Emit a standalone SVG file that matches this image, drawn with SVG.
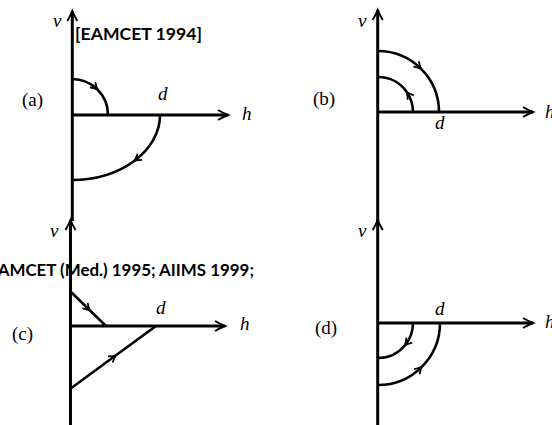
<svg xmlns="http://www.w3.org/2000/svg" width="552" height="425" viewBox="0 0 552 425">
<style>
.ax{stroke:#000;stroke-width:3;fill:none}
.cv{stroke:#000;stroke-width:2.6;fill:none}
.lbl{font-family:"Liberation Serif",serif;font-size:19px;fill:#000}
.var{font-family:"Liberation Serif",serif;font-style:italic;font-size:19px;fill:#000}
.note{font-family:Lato,"Open Sans",sans-serif;font-weight:bold;font-size:17px;fill:#000}
</style>
<defs>
<marker id="ah" markerUnits="userSpaceOnUse" markerWidth="16" markerHeight="14" viewBox="-12 -7 14 14" refX="0" refY="0" orient="auto">
<path d="M-10,-5 Q-4,-1.5 0,0 Q-4,1.5 -10,5" fill="none" stroke="#000" stroke-width="2"/>
</marker>
<marker id="sh" markerUnits="userSpaceOnUse" markerWidth="12" markerHeight="12" viewBox="-10 -6 12 12" refX="0" refY="0" orient="auto">
<path d="M-7,-3.8 Q-3,-1 0,0 Q-3,1 -7,3.8" fill="none" stroke="#000" stroke-width="1.8"/>
</marker>
</defs>
<g id="connectors">
<path class="ax" d="M72.3,221 V11" marker-end="url(#ah)"/>
<path class="ax" d="M72,115 H228" marker-end="url(#ah)"/>
<path class="cv" d="M72,79 A36,36 0 0 1 97.5,89.5" marker-end="url(#sh)"/>
<path class="cv" d="M97.5,89.5 A36,36 0 0 1 108,115"/>
<path class="cv" d="M160,115 A88,65 0 0 1 134.2,161" marker-end="url(#sh)"/>
<path class="cv" d="M134.2,161 A88,65 0 0 1 72,180"/>
<path class="ax" d="M377.7,221 V10" marker-end="url(#ah)"/>
<path class="ax" d="M378,112 H533" marker-end="url(#ah)"/>
<path class="cv" d="M413,112 A35,35 0 0 0 406.7,91.9" marker-end="url(#sh)"/>
<path class="cv" d="M406.7,91.9 A35,35 0 0 0 378,77"/>
<path class="cv" d="M378,51 A61,61 0 0 1 421.1,68.9" marker-end="url(#sh)"/>
<path class="cv" d="M421.1,68.9 A61,61 0 0 1 439,112"/>
<path class="ax" d="M70.5,425 V220" marker-end="url(#ah)"/>
<path class="ax" d="M70,326 H225" marker-end="url(#ah)"/>
<path class="cv" d="M70,291 L90,310.5" marker-end="url(#sh)"/>
<path class="cv" d="M90,310.5 L106,326"/>
<path class="cv" d="M70,389 L116,355.3" marker-end="url(#sh)"/>
<path class="cv" d="M116,355.3 L156,326"/>
<path class="ax" d="M377.7,425 V220" marker-end="url(#ah)"/>
<path class="ax" d="M378,323 H533" marker-end="url(#ah)"/>
<path class="cv" d="M413,323 A35,35 0 0 1 404.8,345.5" marker-end="url(#sh)"/>
<path class="cv" d="M404.8,345.5 A35,35 0 0 1 378,358"/>
<path class="cv" d="M378,385 A62,62 0 0 0 421.8,366.8" marker-end="url(#sh)"/>
<path class="cv" d="M421.8,366.8 A62,62 0 0 0 440,323"/>
</g>
<g id="panel-a">
<text class="lbl" x="22" y="106">(a)</text>
<text class="var" x="53" y="27">v</text>
<text class="var" x="242" y="120">h</text>
<text class="var" x="158" y="100">d</text>
<text class="note" x="75" y="40" textLength="127" lengthAdjust="spacingAndGlyphs">[EAMCET 1994]</text>
</g>
<g id="panel-b">
<text class="lbl" x="313" y="105">(b)</text>
<text class="var" x="358" y="27">v</text>
<text class="var" x="545" y="118">h</text>
<text class="var" x="435" y="129">d</text>
</g>
<g id="panel-c">
<text class="lbl" x="12" y="340">(c)</text>
<text class="var" x="50" y="237">v</text>
<text class="var" x="240" y="330">h</text>
<text class="var" x="156" y="314">d</text>
<text class="note" x="-12" y="276" textLength="266" lengthAdjust="spacingAndGlyphs">EAMCET (Med.) 1995; AIIMS 1999;</text>
</g>
<g id="panel-d">
<text class="lbl" x="315" y="334">(d)</text>
<text class="var" x="358" y="237">v</text>
<text class="var" x="545" y="328">h</text>
<text class="var" x="435" y="315">d</text>
</g>
</svg>
